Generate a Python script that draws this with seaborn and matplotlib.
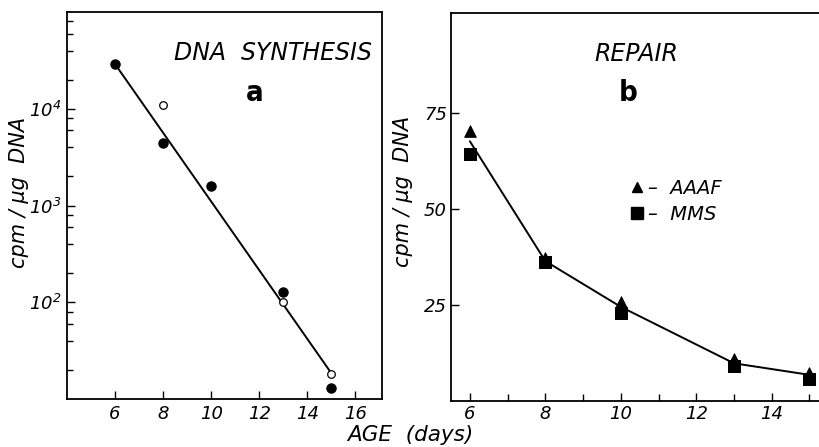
import matplotlib
matplotlib.use("Agg")
import matplotlib.pyplot as plt
import seaborn as sns
import pandas as pd
from matplotlib.ticker import LogLocator, FixedLocator, NullFormatter
from matplotlib.lines import Line2D

# =========================================================
# DATA
# =========================================================

# panel a - DNA synthesis (log scale)
age_filled_a = [6, 8, 10, 13, 15]
cpm_filled_a = [29000, 4400, 1600, 128, 13]
age_open_a = [8, 13, 15]
cpm_open_a = [11000, 102, 18]
fit_age_a = [6, 15]
fit_cpm_a = [29000, 18.5]

# panel b - repair
age_b = [6, 8, 10, 13, 15]
aaaf_b = [70.4, 37.3, 25.8, 10.8, 7.3]
mms_b = [64.3, 36.2, 23.0, 9.2, 5.6]
curve_b = [67.6, 36.4, 24.5, 9.8, 6.8]

xticks_a = [6, 8, 10, 12, 14, 16]
xticks_b = [6, 8, 10, 12, 14]
yticks_a = [1e2, 1e3, 1e4]
ytick_labels_a = ["10$^2$", "10$^3$", "10$^4$"]
yticks_b = [25, 50, 75]

# =========================================================
# STYLE
# =========================================================

sns.set_style("white")
plt.rcParams["font.family"] = ["DejaVu Sans"]
plt.rcParams["font.style"] = "italic"
plt.rcParams["mathtext.default"] = "it"
plt.rcParams["text.color"] = "black"
plt.rcParams["axes.labelcolor"] = "black"
plt.rcParams["xtick.color"] = "black"
plt.rcParams["ytick.color"] = "black"

fig = plt.figure(figsize=(8.2, 4.47), dpi=100)
ax_a = fig.add_axes([0.0817, 0.107, 0.384, 0.866])
ax_b = fig.add_axes([0.55, 0.103, 0.451, 0.868])

tick_kw = dict(direction="in", color="black", width=1.0, labelcolor="black")

# =========================================================
# PANEL A
# =========================================================

sns.lineplot(x=fit_age_a, y=fit_cpm_a, ax=ax_a, color="black", lw=1.4)
sns.scatterplot(x=age_filled_a, y=cpm_filled_a, ax=ax_a, color="black",
                s=45, edgecolor="black", linewidth=0.8, zorder=3)
sns.scatterplot(x=age_open_a, y=cpm_open_a, ax=ax_a, color="white",
                s=30, edgecolor="black", linewidth=0.9, zorder=3)

ax_a.set_yscale("log")
ax_a.set_xlim(4, 17.1)
ax_a.set_ylim(10, 1e5)
ax_a.xaxis.set_major_locator(FixedLocator(xticks_a))
ax_a.set_xticklabels([str(t) for t in xticks_a])
ax_a.yaxis.set_major_locator(FixedLocator(yticks_a))
ax_a.set_yticklabels(ytick_labels_a)
ax_a.yaxis.set_minor_locator(LogLocator(base=10, subs=[2, 4, 6, 8]))
ax_a.yaxis.set_minor_formatter(NullFormatter())
ax_a.tick_params(axis="both", which="major", length=6, labelsize=13, pad=4,
                 bottom=True, left=True, **tick_kw)
ax_a.tick_params(axis="y", which="minor", length=4, left=True, **tick_kw)
ax_a.tick_params(axis="x", which="minor", length=0)
ax_a.set_ylabel("cpm / µg  DNA", fontsize=15)
ax_a.yaxis.set_label_coords(-0.12, 0.535)
ax_a.text(0.97, 0.895, "DNA  SYNTHESIS", transform=ax_a.transAxes,
          ha="right", va="center", fontsize=17)
ax_a.text(0.595, 0.79, "a", transform=ax_a.transAxes, ha="center", va="center",
          fontsize=21, fontweight="bold", fontstyle="normal",
          fontstretch="condensed")
for sp in ax_a.spines.values():
    sp.set_color("black")
    sp.set_linewidth(1.3)

# =========================================================
# PANEL B
# =========================================================

df_b = pd.DataFrame({"age": age_b, "AAAF": aaaf_b, "MMS": mms_b, "curve": curve_b})
sns.lineplot(data=df_b, x="age", y="curve", ax=ax_b, color="black", lw=1.4)
sns.scatterplot(data=df_b, x="age", y="AAAF", ax=ax_b, marker="^", color="black",
                s=70, edgecolor="black", zorder=3)
sns.scatterplot(data=df_b, x="age", y="MMS", ax=ax_b, marker="s", color="black",
                s=80, edgecolor="black", zorder=3)

ax_b.set_xlim(5.5, 15.3)
ax_b.set_ylim(0, 101)
ax_b.xaxis.set_major_locator(FixedLocator(xticks_b))
ax_b.set_xticklabels([str(t) for t in xticks_b])
ax_b.xaxis.set_minor_locator(FixedLocator([7, 9, 11, 13, 15]))
ax_b.yaxis.set_major_locator(FixedLocator(yticks_b))
ax_b.set_yticklabels([str(t) for t in yticks_b])
ax_b.tick_params(axis="both", which="major", length=6, labelsize=13, pad=3,
                 bottom=True, left=True, **tick_kw)
ax_b.tick_params(axis="x", which="minor", length=5, bottom=True, **tick_kw)
ax_b.set_xlabel("")
ax_b.set_ylabel("cpm / µg  DNA", fontsize=15)
ax_b.yaxis.set_label_coords(-0.104, 0.54)
ax_b.text(0.5, 0.895, "REPAIR", transform=ax_b.transAxes,
          ha="center", va="center", fontsize=17)
ax_b.text(0.48, 0.795, "b", transform=ax_b.transAxes, ha="center", va="center",
          fontsize=21, fontweight="bold", fontstyle="normal",
          fontstretch="condensed")
ax_b.spines["right"].set_visible(False)
for sp in ax_b.spines.values():
    sp.set_color("black")
    sp.set_linewidth(1.3)

handles = [
    Line2D([], [], marker="^", color="black", ls="none", markersize=7),
    Line2D([], [], marker="s", color="black", ls="none", markersize=8),
]
ax_b.legend(handles, ["–  AAAF", "–  MMS"], loc="center left",
            bbox_to_anchor=(0.455, 0.515), frameon=False, fontsize=14,
            handletextpad=0.1, handlelength=1.0, labelspacing=0.35,
            borderaxespad=0)

fig.text(0.5, 0.026, "AGE  (days)", ha="center", va="center", fontsize=15.5)

fig.savefig("out.png", dpi=100)
